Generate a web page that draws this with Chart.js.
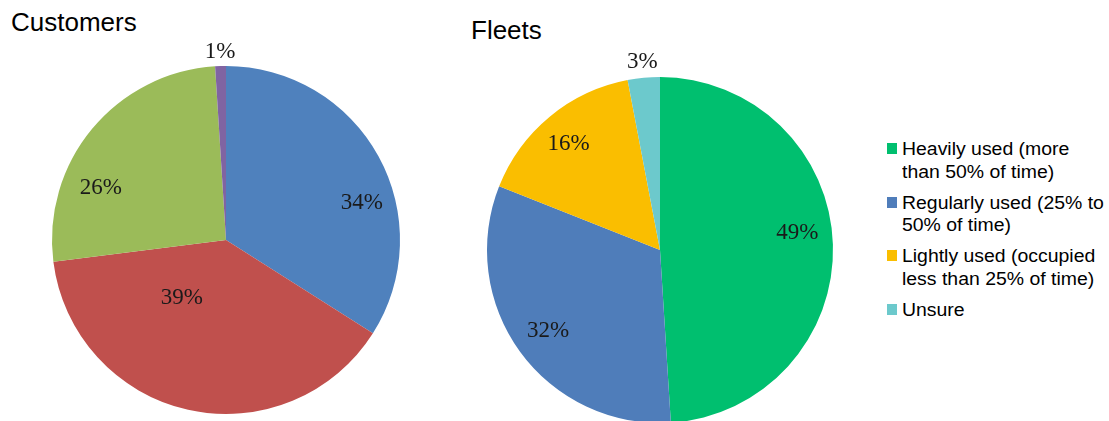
<!DOCTYPE html>
<html>
<head>
<meta charset="utf-8">
<script src="https://cdn.jsdelivr.net/npm/chart.js@4"></script>
<style>
    html, body { margin: 0; padding: 0; width: 1109px; height: 421px; overflow: hidden; background: #fff; }
    body { position: relative; font-family: "Liberation Sans", Arial, sans-serif; }
    .title { position: absolute; font-size: 26px; line-height: 26px; color: #000; white-space: nowrap; }
    #customersWrap { position: absolute; left: 0; top: 0; }
    #fleetsWrap { position: absolute; left: 452px; top: 0; }
    #legend { position: absolute; left: 887px; top: 138px; font-size: 17.5px; line-height: 22.5px; color: #000; }
    .item { position: relative; padding-left: 15px; margin-bottom: 8.5px; white-space: nowrap; }
    .txt { display: inline-block; transform: scaleX(1.11); transform-origin: left center; }
    .box { position: absolute; left: 0; top: 5px; width: 10px; height: 11px; }
</style>
</head>
<body>
<div class="title" style="left:11px; top:9px;">Customers</div>
<div class="title" style="left:471px; top:17px;">Fleets</div>
<div id="customersWrap"><canvas id="customersChart" width="452" height="421"></canvas></div>
<div id="fleetsWrap"><canvas id="fleetsChart" width="420" height="430"></canvas></div>
<div id="legend"></div>
<script>
const customerValues = [34, 39, 26, 1];
const customerColors = ["#4F81BD", "#C0504D", "#9BBB59", "#8064A2"];

const fleetLabels = [
    ["Heavily used (more", "than 50% of time)"],
    ["Regularly used (25% to", "50% of time)"],
    ["Lightly used (occupied", "less than 25% of time)"],
    ["Unsure"]
];
const fleetValues = [49, 32, 16, 3];
const fleetColors = ["#00BF6F", "#4F7DBA", "#FABE00", "#6CC9CC"];

// where each % label sits: fraction along the slice, and fraction of radius
const customerLabelPos = { along: [0.61, 0.675, 0.32, 0.5], dist: [0.81, 0.42, 0.78, 1.08] };
const fleetLabelPos = { along: [0.47, 0.5, 0.48, 0.5], dist: [0.80, 0.80, 0.81, 1.09] };

const pctLabels = {
    id: "pctLabels",
    afterDatasetsDraw(chart, args, opts) {
        const c = chart.ctx;
        const meta = chart.getDatasetMeta(0);
        const values = chart.data.datasets[0].data;
        c.save();
        c.font = "23px 'Liberation Serif', 'DejaVu Serif', serif";
        c.fillStyle = "#1a1a1a";
        c.textAlign = "center";
        c.textBaseline = "middle";
        meta.data.forEach(function (arc, i) {
            const a = arc.startAngle + (arc.endAngle - arc.startAngle) * opts.along[i];
            const r = arc.outerRadius * opts.dist[i];
            c.fillText(values[i] + "%", arc.x + Math.cos(a) * r, arc.y + Math.sin(a) * r);
        });
        c.restore();
    }
};

function makePie(id, values, colors, padding, labelPos) {
    return new Chart(document.getElementById(id), {
        type: "pie",
        data: {
            labels: values.map(String),
            datasets: [{
                data: values,
                backgroundColor: colors,
                borderWidth: 0
            }]
        },
        options: {
            responsive: false,
            animation: false,
            layout: { padding: padding },
            plugins: {
                legend: { display: false },
                tooltip: { enabled: false },
                pctLabels: labelPos
            }
        },
        plugins: [pctLabels]
    });
}

makePie("customersChart", customerValues, customerColors,
    { left: 52, right: 52, top: 66, bottom: 7 }, customerLabelPos);
makePie("fleetsChart", fleetValues, fleetColors,
    { left: 35, right: 39, top: 77, bottom: 7 }, fleetLabelPos);

// Legend (wrapped text, so built as html)
const legend = document.getElementById("legend");
fleetLabels.forEach(function (lines, i) {
    const item = document.createElement("div");
    item.className = "item";
    const box = document.createElement("span");
    box.className = "box";
    box.style.background = fleetColors[i];
    item.appendChild(box);
    const txt = document.createElement("span");
    txt.className = "txt";
    lines.forEach(function (t, j) {
        if (j > 0) txt.appendChild(document.createElement("br"));
        txt.appendChild(document.createTextNode(t));
    });
    item.appendChild(txt);
    legend.appendChild(item);
});
</script>
</body>
</html>
